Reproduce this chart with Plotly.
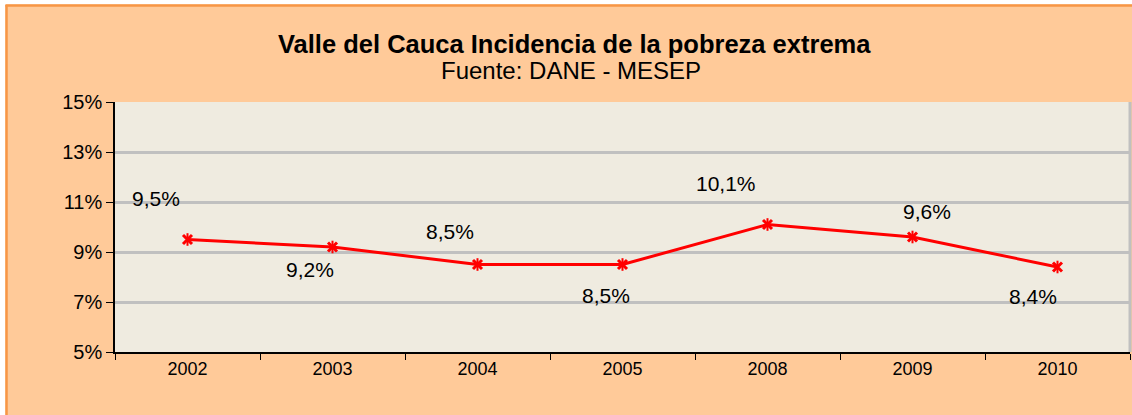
import plotly.graph_objects as go

years = ["2002", "2003", "2004", "2005", "2008", "2009", "2010"]
values = [9.5, 9.2, 8.5, 8.5, 10.1, 9.6, 8.4]
y_ticks = [5, 7, 9, 11, 13, 15]
y_tick_labels = ["5%", "7%", "9%", "11%", "13%", "15%"]
title = "Valle del Cauca Incidencia de la pobreza extrema"
subtitle = "Fuente: DANE - MESEP"

# label offsets (px) relative to each point
label_dx = [-32, -23, -28, -17, -42, 14, -25]
label_dy = [41, -22, 33, -31, 41, 26, -29]

FONT = "Liberation Sans, Arial, sans-serif"
W, H = 1132, 415
ML, MR, MT, MB = 115, 2, 102, 63
PW, PH = W - ML - MR, H - MT - MB

def px_x(p):
    return (p - ML) / PW

def px_y(p):
    return (H - MB - p) / PH

fig = go.Figure()
fig.add_trace(go.Scatter(
    x=years, y=values, mode="lines",
    line=dict(color="#FF0000", width=3),
    hoverinfo="skip", showlegend=False,
))
fig.add_trace(go.Scatter(
    x=years, y=values, mode="markers",
    marker=dict(symbol="x-thin-open", size=9, color="#FF0000",
                line=dict(color="#FF0000", width=3)),
    hoverinfo="skip", showlegend=False,
))
fig.add_trace(go.Scatter(
    x=years, y=values, mode="markers",
    marker=dict(symbol="line-ns-open", size=9, color="#FF0000",
                line=dict(color="#FF0000", width=2)),
    hoverinfo="skip", showlegend=False,
))

annotations = []
for i, (v, dx, dy) in enumerate(zip(values, label_dx, label_dy)):
    annotations.append(dict(
        x=i, y=v, xref="x", yref="y", showarrow=False,
        text=f"{v:.1f}".replace(".", ",") + "%",
        xshift=dx, yshift=dy,
        font=dict(family=FONT, size=21, color="#000000"),
    ))
annotations.append(dict(
    x=px_x(574), y=px_y(44), xref="paper", yref="paper", showarrow=False,
    text=f"<b>{title}</b>", font=dict(family=FONT, size=25.5, color="#000000"),
    xanchor="center", yanchor="middle",
))
annotations.append(dict(
    x=px_x(571), y=px_y(71), xref="paper", yref="paper", showarrow=False,
    text=subtitle, font=dict(family=FONT, size=24, color="#000000"),
    xanchor="center", yanchor="middle",
))

shapes = [
    dict(type="rect", xref="paper", yref="paper", x0=px_x(-10), x1=px_x(5.5),
         y0=px_y(H + 10), y1=px_y(-10), fillcolor="white", line=dict(width=0), layer="below"),
    dict(type="rect", xref="paper", yref="paper", x0=px_x(-10), x1=px_x(W + 10),
         y0=px_y(4.5), y1=px_y(-10), fillcolor="white", line=dict(width=0), layer="below"),
    dict(type="line", xref="paper", yref="paper", x0=px_x(6.5), x1=px_x(6.5),
         y0=px_y(5), y1=px_y(H + 10), line=dict(color="#F79646", width=2.5), layer="below"),
    dict(type="line", xref="paper", yref="paper", x0=px_x(5.5), x1=px_x(W + 10),
         y0=px_y(5.5), y1=px_y(5.5), line=dict(color="#F79646", width=2.5), layer="below"),
    dict(type="line", xref="paper", yref="paper", x0=1, x1=1, y0=0, y1=1,
         line=dict(color="#C0C0C0", width=3), layer="above"),
]

fig.update_layout(
    width=W, height=H,
    margin=dict(l=ML, r=MR, t=MT, b=MB),
    paper_bgcolor="#FFCA99",
    plot_bgcolor="#EFEBE0",
    annotations=annotations,
    shapes=shapes,
    xaxis=dict(
        type="category", categoryorder="array", categoryarray=years,
        range=[-0.5, len(years) - 0.5], autorange=False,
        showgrid=False, showline=True, linecolor="#000000", linewidth=1.5,
        ticks="outside", tickson="boundaries", ticklen=6, tickcolor="#000000",
        tickfont=dict(family=FONT, size=18, color="#000000"), tickangle=0,
        zeroline=False, fixedrange=True,
    ),
    yaxis=dict(
        range=[5, 15], autorange=False, tickvals=y_ticks, ticktext=y_tick_labels,
        showgrid=True, gridcolor="#C0C0C0", gridwidth=2.5,
        showline=True, linecolor="#000000", linewidth=1.5,
        ticks="outside", ticklen=7, tickcolor="#000000",
        tickfont=dict(family=FONT, size=20, color="#000000"),
        zeroline=False, fixedrange=True,
    ),
    font=dict(family=FONT),
)

fig.write_html(
    "out.html",
    config={"displayModeBar": False},
    post_script="document.body.style.margin='0px';document.body.style.overflow='hidden';",
)
